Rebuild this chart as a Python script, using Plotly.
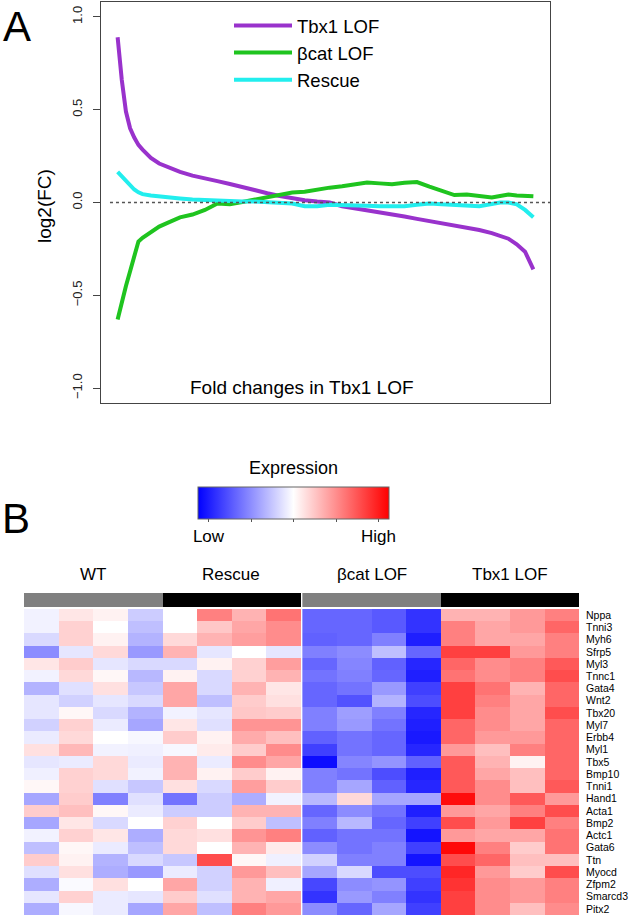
import plotly.graph_objects as go

# ---------------- Panel A data ----------------
rank_pct = [0, 1, 2, 3, 4, 5, 6, 8, 10, 12, 15, 18, 21, 24, 27, 30, 33, 36, 39, 42, 45,
            48, 51, 54, 57, 60, 63, 66, 69, 72, 75, 78, 81, 84, 87, 90, 92, 94, 96, 98, 100]
tbx1_lof = [0.89, 0.66, 0.49, 0.40, 0.35, 0.31, 0.285, 0.24, 0.21, 0.19, 0.165, 0.145, 0.128,
            0.115, 0.10, 0.082, 0.065, 0.05, 0.035, 0.022, 0.012, 0.005, 0.0, -0.02, -0.03,
            -0.04, -0.05, -0.06, -0.075, -0.088, -0.10, -0.11, -0.12, -0.135, -0.148, -0.165,
            -0.178, -0.195, -0.225, -0.265, -0.36]
bcat_lof = [-0.63, -0.53, -0.45, -0.37, -0.29, -0.21, -0.19, -0.16, -0.13, -0.11, -0.08, -0.065,
            -0.04, -0.005, -0.01, 0.003, 0.015, 0.028, 0.04, 0.054, 0.058, 0.07, 0.08, 0.088,
            0.098, 0.108, 0.103, 0.098, 0.106, 0.11, 0.085, 0.06, 0.04, 0.043, 0.035, 0.027,
            0.035, 0.043, 0.038, 0.035, 0.033]
rescue = [0.165, 0.14, 0.115, 0.09, 0.07, 0.055, 0.045, 0.038, 0.032, 0.028, 0.022, 0.016, 0.012,
          0.01, 0.007, 0.005, 0.005, 0.002, 0.0, -0.005, -0.02, -0.02, -0.012, -0.012, -0.015,
          -0.017, -0.02, -0.02, -0.02, -0.012, -0.005, -0.01, -0.015, -0.02, -0.02, -0.008,
          0.0, 0.0, -0.01, -0.04, -0.08]
y_ticks = [-1.0, -0.5, 0.0, 0.5, 1.0]

# ---------------- Panel B data ----------------
genes = ["Nppa", "Tnni3", "Myh6", "Sfrp5", "Myl3", "Tnnc1", "Gata4", "Wnt2", "Tbx20", "Myl7",
         "Erbb4", "Myl1", "Tbx5", "Bmp10", "Tnni1", "Hand1", "Acta1", "Bmp2", "Actc1", "Gata6",
         "Ttn", "Myocd", "Zfpm2", "Smarcd3", "Pitx2"]
groups = ["WT", "Rescue", "βcat LOF", "Tbx1 LOF"]
group_shade = [0, 1, 0, 1]  # 0 = grey bar, 1 = black bar

wt_expr = [
    [-0.05, 0.10, 0.05, -0.20], [-0.05, 0.18, 0.00, -0.25], [-0.15, 0.18, 0.05, -0.30],
    [-0.45, -0.10, 0.15, -0.40], [0.10, 0.20, -0.10, -0.15], [-0.05, 0.15, 0.03, -0.28],
    [-0.30, -0.12, 0.12, -0.22], [-0.10, -0.18, -0.10, -0.15], [-0.10, 0.03, -0.15, -0.30],
    [-0.18, 0.18, -0.08, -0.35], [-0.08, 0.15, 0.00, -0.03], [0.12, 0.28, -0.05, -0.06],
    [-0.10, -0.08, 0.15, -0.08], [-0.06, 0.18, 0.15, -0.05], [0.03, 0.18, -0.12, -0.22],
    [-0.35, 0.20, -0.50, -0.12], [0.20, 0.25, 0.03, -0.08], [-0.35, 0.10, -0.15, 0.00],
    [-0.05, 0.18, 0.10, -0.32], [-0.25, 0.03, -0.08, -0.25], [0.20, 0.05, -0.30, -0.15],
    [-0.12, 0.12, -0.32, -0.40], [-0.32, -0.02, 0.12, 0.00], [-0.10, 0.18, -0.08, -0.10],
    [-0.32, -0.03, -0.08, -0.35]]
rescue_expr = [
    [0.00, 0.50, 0.30, 0.55], [0.00, 0.22, 0.35, 0.45], [0.15, 0.30, 0.38, 0.45],
    [0.30, -0.10, 0.00, -0.10], [-0.15, 0.05, 0.18, 0.38], [0.05, -0.15, 0.18, 0.30],
    [0.35, -0.15, 0.30, 0.10], [0.35, -0.25, 0.20, 0.12], [-0.05, -0.10, 0.22, 0.20],
    [0.10, -0.12, 0.42, 0.42], [0.20, 0.05, 0.33, 0.25], [-0.03, 0.08, 0.20, 0.45],
    [0.30, -0.08, 0.45, 0.35], [0.30, 0.05, 0.20, 0.05], [0.12, -0.15, 0.38, 0.20],
    [-0.55, -0.20, -0.32, -0.05], [-0.20, -0.20, 0.30, 0.30], [0.18, 0.00, 0.20, -0.25],
    [0.15, 0.12, 0.42, 0.50], [0.15, 0.00, 0.30, 0.08], [-0.22, 0.70, 0.03, -0.06],
    [-0.08, -0.18, 0.40, 0.25], [0.35, -0.18, 0.30, -0.06], [0.20, -0.12, 0.30, 0.35],
    [0.35, -0.25, 0.50, 0.40]]
bcat_expr = [
    [-0.60, -0.60, -0.65, -0.80], [-0.60, -0.60, -0.65, -0.80], [-0.62, -0.60, -0.50, -0.88],
    [-0.50, -0.45, -0.25, -0.60], [-0.60, -0.48, -0.62, -0.85], [-0.55, -0.50, -0.60, -0.88],
    [-0.60, -0.55, -0.40, -0.75], [-0.60, -0.68, -0.30, -0.70], [-0.50, -0.38, -0.50, -0.85],
    [-0.50, -0.40, -0.55, -0.88], [-0.62, -0.55, -0.60, -0.90], [-0.75, -0.55, -0.60, -0.85],
    [-0.95, -0.48, -0.42, -0.62], [-0.50, -0.55, -0.70, -0.88], [-0.50, -0.35, -0.62, -0.85],
    [-0.28, 0.15, -0.35, -0.35], [-0.60, -0.45, -0.55, -0.88], [-0.50, -0.28, -0.60, -0.75],
    [-0.62, -0.55, -0.55, -0.92], [-0.45, -0.55, -0.50, -0.75], [-0.18, -0.50, -0.50, -0.92],
    [-0.35, -0.15, -0.70, -0.70], [-0.72, -0.45, -0.42, -0.75], [-0.80, -0.40, -0.50, -0.80],
    [-0.45, -0.60, -0.35, -0.75]]
tbx1_expr = [
    [0.30, 0.30, 0.40, 0.50], [0.50, 0.35, 0.40, 0.60], [0.50, 0.35, 0.35, 0.50],
    [0.75, 0.75, 0.40, 0.50], [0.60, 0.45, 0.50, 0.65], [0.55, 0.45, 0.50, 0.70],
    [0.75, 0.55, 0.30, 0.60], [0.75, 0.50, 0.35, 0.60], [0.75, 0.45, 0.35, 0.70],
    [0.60, 0.45, 0.35, 0.60], [0.60, 0.40, 0.40, 0.60], [0.40, 0.25, 0.50, 0.60],
    [0.65, 0.30, 0.05, 0.60], [0.65, 0.35, 0.25, 0.60], [0.65, 0.45, 0.25, 0.65],
    [0.95, 0.45, 0.65, 0.40], [0.40, 0.35, 0.50, 0.70], [0.70, 0.40, 0.75, 0.50],
    [0.40, 0.35, 0.35, 0.55], [0.97, 0.50, 0.20, 0.55], [0.70, 0.60, 0.25, 0.25],
    [0.85, 0.40, 0.20, 0.70], [0.80, 0.45, 0.40, 0.50], [0.75, 0.45, 0.40, 0.50],
    [0.75, 0.45, 0.25, 0.45]]

# ---------------- figure ----------------
W, H = 632, 919
FONT = "Liberation Sans, Arial, sans-serif"


def px_x(p):
    return p / W


def px_y(p):
    return 1 - p / H


fig = go.Figure()

line_specs = [("Tbx1 LOF", tbx1_lof, "#9932CC"),
              ("βcat LOF", bcat_lof, "#1FC41F"),
              ("Rescue", rescue, "#22EEEE")]
for name, vals, col in line_specs:
    fig.add_trace(go.Scatter(x=rank_pct, y=vals, mode="lines", name=name,
                             line=dict(color=col, width=4), xaxis="x", yaxis="y"))

# heatmap: left half (WT + Rescue), right half (bcat + Tbx1) with a thin gap
left_z = [wt_expr[i] + rescue_expr[i] for i in range(len(genes))]
right_z = [bcat_expr[i] + tbx1_expr[i] for i in range(len(genes))]
n_per = len(wt_expr[0])
left_x = list(range(1, 2 * n_per + 1))
right_x = [2 * n_per + 1.05 + k for k in range(2 * n_per)]

for xs, zs in [(left_x, left_z), (right_x, right_z)]:
    fig.add_trace(go.Heatmap(x=xs, y=genes, z=zs, coloraxis="coloraxis",
                             xaxis="x2", yaxis="y2", showlegend=False, hoverinfo="skip"))

# column annotation bars
left_bar = [[group_shade[g] for g in (0, 1) for _ in range(n_per)]]
right_bar = [[group_shade[g] for g in (2, 3) for _ in range(n_per)]]
for xs, zs in [(left_x, left_bar), (right_x, right_bar)]:
    fig.add_trace(go.Heatmap(x=xs, y=["group"], z=zs, zmin=0, zmax=1,
                             colorscale=[[0, "#808080"], [1, "#000000"]], showscale=False,
                             xaxis="x2", yaxis="y3", showlegend=False, hoverinfo="skip"))

all_x = left_x + right_x
group_centers = [sum(all_x[g * n_per:(g + 1) * n_per]) / n_per for g in range(len(groups))]

annotations = [
    dict(text="A", x=px_x(17), y=px_y(27), xref="paper", yref="paper", showarrow=False,
         font=dict(size=42, family=FONT, color="black"), xanchor="center", yanchor="middle"),
    dict(text="B", x=px_x(16), y=px_y(518), xref="paper", yref="paper", showarrow=False,
         font=dict(size=42, family=FONT, color="black"), xanchor="center", yanchor="middle"),
    dict(text="log2(FC)", x=px_x(45), y=px_y(206), xref="paper", yref="paper", showarrow=False,
         textangle=-90, font=dict(size=19, family=FONT, color="black"),
         xanchor="center", yanchor="middle"),
    dict(text="Fold changes in Tbx1 LOF", x=px_x(302), y=px_y(387), xref="paper", yref="paper",
         showarrow=False, font=dict(size=19, family=FONT, color="black"),
         xanchor="center", yanchor="middle"),
]
for g, name in enumerate(groups):
    annotations.append(dict(text=name, x=group_centers[g], y=px_y(574), xref="x2", yref="paper",
                            showarrow=False, font=dict(size=17, family=FONT, color="black"),
                            xanchor="center", yanchor="middle"))

fig.update_layout(
    width=W, height=H,
    margin=dict(l=0, r=0, t=0, b=0, autoexpand=False),
    paper_bgcolor="white", plot_bgcolor="white",
    font=dict(family=FONT, color="black"),
    showlegend=True,
    legend=dict(x=px_x(229), y=px_y(7), xanchor="left", yanchor="top",
                font=dict(size=18.5, family=FONT, color="black"),
                bgcolor="rgba(0,0,0,0)", tracegroupgap=0, itemwidth=58),
    xaxis=dict(domain=[px_x(101), px_x(550)], range=[-4, 104], showgrid=False, zeroline=False,
               showticklabels=False, ticks="", showline=True, mirror=True,
               linecolor="#444", linewidth=1, anchor="y"),
    yaxis=dict(domain=[px_y(403), px_y(2)], range=[-1.08, 1.08], showgrid=False, zeroline=False,
               tickvals=y_ticks, tickformat=".1f", ticks="outside", ticklen=7,
               tickcolor="#444", tickangle=-90, tickfont=dict(size=13, color="#222"),
               ticklabelstandoff=6,
               showline=True, mirror=True, linecolor="#444", linewidth=1, anchor="x"),
    xaxis2=dict(domain=[px_x(24), px_x(579)], range=[0.5, right_x[-1] + 0.5], showgrid=False,
                zeroline=False, showticklabels=False, ticks="", showline=False, anchor="y2"),
    yaxis2=dict(domain=[px_y(915), px_y(609)], autorange="reversed", showgrid=False,
                zeroline=False, side="right", ticks="", showline=False,
                tickmode="array", tickvals=genes, ticktext=genes,
                tickfont=dict(size=10.5, color="black"), ticklabelstandoff=6, anchor="x2"),
    yaxis3=dict(domain=[px_y(607), px_y(593)], showgrid=False, zeroline=False,
                showticklabels=False, ticks="", showline=False, anchor="x2"),
    coloraxis=dict(
        colorscale=[[0, "#0000FF"], [0.5, "#FFFFFF"], [1, "#FF0000"]], cmin=-1, cmax=1,
        colorbar=dict(orientation="h", x=px_x(293.5), xanchor="center", y=px_y(467),
                      yanchor="top", len=191, lenmode="pixels", thickness=32,
                      thicknessmode="pixels", xpad=0, ypad=0,
                      outlinewidth=1, outlinecolor="#666",
                      title=dict(text="Expression", side="top",
                                 font=dict(size=18, family=FONT, color="black")),
                      tickvals=[-0.89, -0.445, 0, 0.445, 0.89],
                      ticktext=["Low", "", "", "", "High"], ticks="outside", ticklen=3,
                      tickcolor="#555", tickfont=dict(size=17, family=FONT, color="black"))),
    annotations=annotations,
    shapes=[dict(type="line", xref="x domain", yref="y", x0=0.02, x1=1, y0=0, y1=0,
                 line=dict(color="#555", width=1.3, dash="dot"))],
)

fig.write_html("out.html", config={"displayModeBar": False},
               post_script="document.body.style.margin='0px';")
